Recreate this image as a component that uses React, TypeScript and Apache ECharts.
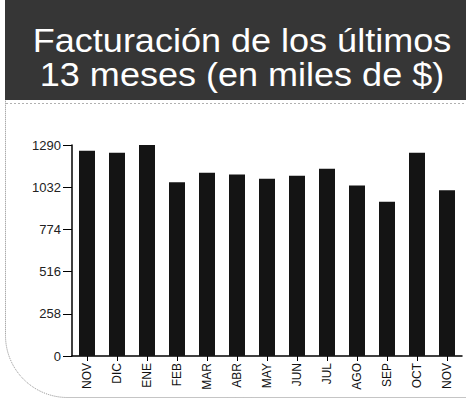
import React, { useEffect, useRef } from "react";
import * as echarts from "echarts";

const categories = ["NOV", "DIC", "ENE", "FEB", "MAR", "ABR", "MAY", "JUN", "JUL", "AGO", "SEP", "OCT", "NOV"];
const values = [1255, 1243, 1290, 1062, 1120, 1110, 1084, 1102, 1145, 1043, 943, 1243, 1013];
const titleText = "Facturación de los últimos\n13 meses (en miles de $)";
const yMax = 1290;
const yInterval = 258;

export default function App() {
  const ref = useRef<HTMLDivElement>(null);
  useEffect(() => {
    if (!ref.current) return;
    const chart = echarts.init(ref.current, null, { renderer: "svg" });
    chart.setOption({
      animation: false,
      backgroundColor: "#ffffff",
      graphic: [
        {
          type: "rect",
          shape: { x: 5.5, y: 0.5, width: 470, height: 397, r: [0, 0, 0, 62] },
          style: { fill: "none", stroke: "#8a8a8a", lineWidth: 1, lineDash: [1, 1] },
          z: 0,
        },
        {
          type: "rect",
          shape: { x: 5, y: 0, width: 461, height: 100 },
          style: { fill: "#363636" },
          z: 1,
        },
        {
          type: "line",
          shape: { x1: 6, y1: 103.5, x2: 466, y2: 103.5 },
          style: { stroke: "#b0b0b0", lineWidth: 1, lineDash: [2, 2] },
          z: 1,
        },
        {
          type: "text",
          x: 242,
          y: 57,
          scaleX: 1.06,
          style: {
            text: titleText,
            fill: "#ffffff",
            font: "normal 34px 'Liberation Sans', Arial, sans-serif",
            lineHeight: 34,
            textAlign: "center",
            verticalAlign: "middle",
          },
          z: 2,
        },
      ],
      grid: { left: 72, right: 4, top: 145, bottom: 44, containLabel: false },
      xAxis: {
        type: "category",
        data: categories,
        axisLine: { show: true, lineStyle: { color: "#000", width: 1.5 } },
        axisTick: { show: true, alignWithLabel: true, length: 5, lineStyle: { color: "#000" } },
        axisLabel: {
          rotate: 90,
          interval: 0,
          margin: 7,
          color: "#111",
          fontSize: 12,
          fontFamily: "'Liberation Sans', Arial, sans-serif",
        },
      },
      yAxis: {
        type: "value",
        min: 0,
        max: yMax,
        interval: yInterval,
        splitLine: { show: false },
        axisLine: { show: true, lineStyle: { color: "#000", width: 1.5 } },
        axisTick: { show: true, length: 9, lineStyle: { color: "#000" } },
        axisLabel: {
          margin: 11,
          color: "#222",
          fontSize: 13,
          formatter: (v: number) => String(v),
          fontFamily: "'Liberation Sans Narrow', 'Liberation Sans', Arial, sans-serif",
        },
      },
      series: [
        {
          type: "bar",
          data: values,
          barWidth: 16,
          itemStyle: { color: "#141414" },
        },
      ],
    });
    return () => chart.dispose();
  }, []);
  return <div ref={ref} style={{ width: 466, height: 400, position: "absolute", left: 0, top: 0 }} />;
}
